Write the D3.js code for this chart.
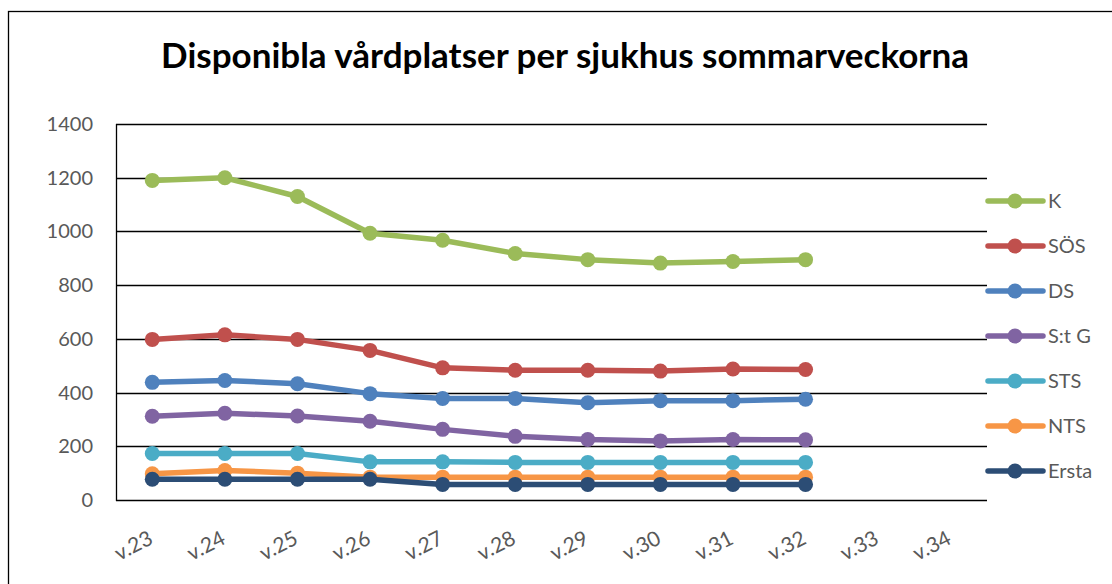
<!DOCTYPE html>
<html>
<head>
<meta charset="utf-8">
<script src="https://cdn.jsdelivr.net/npm/d3@7"></script>
<style>
body{margin:0;background:#fff;}
text{font-family:Lato,"Open Sans",sans-serif;}
</style>
</head>
<body>
<svg width="1112" height="584"></svg>
<script>
var weeks = ["v.23","v.24","v.25","v.26","v.27","v.28","v.29","v.30","v.31","v.32","v.33","v.34"];
var names = ["K","SÖS","DS","S:t G","STS","NTS","Ersta"];
var colors = ["#9BBB59","#C0504D","#4F81BD","#8064A2","#4BACC6","#F79646","#2C4D75"];
var kVals = [1190,1200,1130,993,967,918,895,882,888,895];
var sosVals = [598,615,598,557,492,483,483,480,488,486];
var dsVals = [438,445,433,396,378,378,362,370,370,375];
var stgVals = [312,323,313,293,263,237,225,220,225,224];
var stsVals = [173,173,173,142,142,140,140,140,140,140];
var ntsVals = [98,110,100,85,85,85,85,85,85,85];
var erstaVals = [77,77,77,77,58,58,58,58,58,58];
var yTicks = [0,200,400,600,800,1000,1200,1400];

var series = [kVals,sosVals,dsVals,stgVals,stsVals,ntsVals,erstaVals];

var svg = d3.select("svg");

// outer frame
svg.append("rect").attr("x",8.5).attr("y",11.5).attr("width",1200).attr("height",700)
  .attr("fill","none").attr("stroke","#000").attr("stroke-width",1.3);

svg.append("text").attr("x",565).attr("y",68).attr("text-anchor","middle")
  .style("font-size","35px").style("font-weight","bold").attr("fill","#000")
  .text("Disponibla vårdplatser per sjukhus sommarveckorna");

var pLeft = 116, pRight = 987, pTop = 124, pBottom = 500;
var x = d3.scaleBand().domain(weeks).range([pLeft,pRight]);
var y = d3.scaleLinear().domain([0,1400]).range([pBottom,pTop]);

// gridlines
svg.append("g").selectAll("line").data(yTicks).join("line")
  .attr("x1",pLeft).attr("x2",pRight)
  .attr("y1",function(d){return Math.round(y(d))+0.5;}).attr("y2",function(d){return Math.round(y(d))+0.5;})
  .attr("stroke","#000").attr("stroke-width",1.3);

svg.append("line").attr("x1",pLeft+0.5).attr("x2",pLeft+0.5).attr("y1",pTop).attr("y2",pBottom+1)
  .attr("stroke","#000").attr("stroke-width",1.3);

svg.append("g").selectAll("text").data(yTicks).join("text")
  .attr("x",93).attr("y",function(d){return y(d)+7;})
  .attr("text-anchor","end").attr("fill","#595959").style("font-size","20px")
  .text(function(d){return d;});

svg.append("g").selectAll("text").data(weeks).join("text")
  .attr("text-anchor","end").attr("fill","#595959").style("font-size","21px")
  .attr("transform",function(d){return "translate("+(x(d)+x.bandwidth()/2+2)+",543) rotate(-27)";})
  .text(function(d){return d;});

var line = d3.line().x(function(d,i){return x(weeks[i])+x.bandwidth()/2;}).y(function(d){return y(d);});

series.forEach(function(vals,k){
  var g = svg.append("g");
  g.append("path").datum(vals).attr("d",line).attr("fill","none")
    .attr("stroke",colors[k]).attr("stroke-width",5.5).attr("stroke-linejoin","round").attr("stroke-linecap","round");
  g.selectAll("circle").data(vals).join("circle")
    .attr("cx",function(d,i){return x(weeks[i])+x.bandwidth()/2;})
    .attr("cy",function(d){return y(d);})
    .attr("r",7.5).attr("fill",colors[k]);
});

// legend
var lg = svg.append("g").selectAll("g").data(names).join("g")
  .attr("transform",function(d,i){return "translate(988,"+(201+i*45)+")";});
lg.append("line").attr("x1",0).attr("x2",55).attr("stroke",function(d,i){return colors[i];})
  .attr("stroke-width",5.5).attr("stroke-linecap","round");
lg.append("circle").attr("cx",27).attr("r",7.5).attr("fill",function(d,i){return colors[i];});
lg.append("text").attr("x",60).attr("y",7).attr("fill","#595959").style("font-size","20px")
  .text(function(d){return d;});
</script>
</body>
</html>
